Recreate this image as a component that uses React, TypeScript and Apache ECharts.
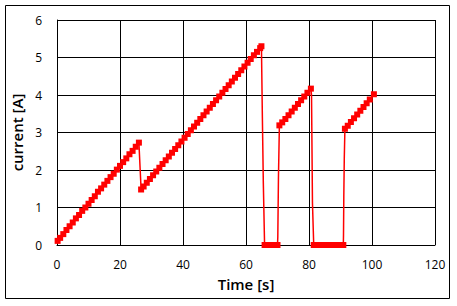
import React, { useEffect, useRef } from "react";
import * as echarts from "echarts";

// Measured segments (time [s], current [A])
const seg1T = [0.2, 1, 2, 3, 4, 5, 6, 7, 8, 9, 10, 11, 12, 13, 14, 15, 16, 17, 18, 19, 20, 21, 22, 23, 24, 25, 26];
const seg1I = [0.11, 0.19, 0.29, 0.40, 0.50, 0.60, 0.71, 0.80, 0.91, 1.00, 1.10, 1.20, 1.30, 1.42, 1.51, 1.61, 1.71, 1.81, 1.90, 2.01, 2.11, 2.21, 2.31, 2.42, 2.51, 2.62, 2.73];

const seg2T = [26.7, 27.5, 28.5, 29.5, 30.5, 31.5, 32.5, 33.5, 34.5, 35.5, 36.5, 37.5, 38.5, 39.5, 40.5, 41.5, 42.5, 43.5, 44.5, 45.5, 46.5, 47.5, 48.5, 49.5, 50.5, 51.5, 52.5, 53.5, 54.5, 55.5, 56.5, 57.5, 58.5, 59.5, 60.5, 61.5, 62.5, 63.5, 64.5, 64.9];
const seg2I = [1.48, 1.56, 1.66, 1.76, 1.86, 1.96, 2.06, 2.16, 2.26, 2.36, 2.46, 2.56, 2.66, 2.76, 2.86, 2.96, 3.06, 3.16, 3.26, 3.36, 3.46, 3.56, 3.66, 3.76, 3.86, 3.96, 4.06, 4.16, 4.26, 4.36, 4.46, 4.56, 4.66, 4.76, 4.86, 4.96, 5.06, 5.15, 5.25, 5.30];

const drop1T = [65.2, 65.5];
const drop1I = [3.4, 1.65];

const zero1T = [65.9, 66.5, 67.1, 67.7, 68.3, 68.9, 69.5, 70.0];
const zero1I = [0, 0, 0, 0, 0, 0, 0, 0];

const rise1T = [70.1, 70.3];
const rise1I = [0.22, 1.78];

const seg3T = [70.6, 71.5, 72.5, 73.5, 74.5, 75.5, 76.5, 77.5, 78.5, 79.5, 80.6];
const seg3I = [3.19, 3.27, 3.36, 3.46, 3.56, 3.66, 3.76, 3.86, 3.96, 4.06, 4.17];

const drop2T = [80.8, 81.1];
const drop2I = [4.0, 1.12];

const zero2T = [81.5, 82.1, 82.7, 83.3, 83.9, 84.5, 85.1, 85.7, 86.3, 86.9, 87.5, 88.1, 88.7, 89.3, 89.9, 90.5, 90.9];
const zero2I = [0, 0, 0, 0, 0, 0, 0, 0, 0, 0, 0, 0, 0, 0, 0, 0, 0];

const rise2T = [90.95, 91.05, 91.2];
const rise2I = [0.25, 1.28, 2.3];

const seg4T = [91.4, 92.3, 93.3, 94.3, 95.3, 96.3, 97.3, 98.3, 99.3, 100.6];
const seg4I = [3.10, 3.18, 3.28, 3.38, 3.48, 3.58, 3.68, 3.78, 3.88, 4.02];

const xTicks = [0, 20, 40, 60, 80, 100, 120];
const yTicks = [0, 1, 2, 3, 4, 5, 6];

function pts(t: number[], v: number[], marker: boolean) {
  return t.map((x, k) => (marker ? { value: [x, v[k]] } : { value: [x, v[k]], symbol: "none" }));
}

export default function App() {
  const ref = useRef<HTMLDivElement>(null);
  useEffect(() => {
    if (!ref.current) return;
    const chart = echarts.init(ref.current, undefined, { renderer: "svg" });
    const data = [
      ...pts(seg1T, seg1I, true),
      ...pts(seg2T, seg2I, true),
      ...pts(drop1T, drop1I, false),
      ...pts(zero1T, zero1I, true),
      ...pts(rise1T, rise1I, false),
      ...pts(seg3T, seg3I, true),
      ...pts(drop2T, drop2I, false),
      ...pts(zero2T, zero2I, true),
      ...pts(rise2T, rise2I, false),
      ...pts(seg4T, seg4I, true),
    ];
    const font = "'Open Sans', 'Noto Sans', sans-serif";
    chart.setOption({
      animation: false,
      backgroundColor: "#ffffff",
      grid: { left: 57, top: 20, right: 22, bottom: 61, containLabel: false },
      graphic: [
        {
          type: "rect",
          shape: { x: 5.5, y: 5.5, width: 444, height: 293 },
          style: { fill: "none", stroke: "#000000", lineWidth: 1 },
          silent: true,
        },
      ],
      xAxis: {
        type: "value",
        min: xTicks[0],
        max: xTicks[xTicks.length - 1],
        interval: 20,
        name: "Time [s]",
        nameLocation: "middle",
        nameGap: 31,
        nameTextStyle: { fontFamily: font, fontSize: 15, fontWeight: 600, color: "#000" },
        axisLine: { show: true, lineStyle: { color: "#000", width: 1 } },
        axisTick: { show: false },
        axisLabel: { fontFamily: font, fontSize: 12, color: "#000", margin: 13 },
        splitLine: { show: true, lineStyle: { color: "#000", width: 1 } },
      },
      yAxis: {
        type: "value",
        min: yTicks[0],
        max: yTicks[yTicks.length - 1],
        interval: 1,
        name: "current [A]",
        nameLocation: "middle",
        nameGap: 30,
        nameTextStyle: { fontFamily: font, fontSize: 15, fontWeight: 600, color: "#000" },
        axisLine: { show: true, lineStyle: { color: "#000", width: 1 } },
        axisTick: { show: false },
        axisLabel: { fontFamily: font, fontSize: 12, color: "#000", margin: 15 },
        splitLine: { show: true, lineStyle: { color: "#000", width: 1 } },
      },
      series: [
        {
          type: "line",
          data,
          symbol: "rect",
          symbolSize: 6,
          showAllSymbol: true,
          lineStyle: { color: "#ff0000", width: 1.5 },
          itemStyle: { color: "#ff0000" },
        },
      ],
    });
    return () => chart.dispose();
  }, []);
  return (
    <div
      ref={ref}
      style={{ position: "absolute", left: 0, top: 0, width: 457, height: 306 }}
    />
  );
}
